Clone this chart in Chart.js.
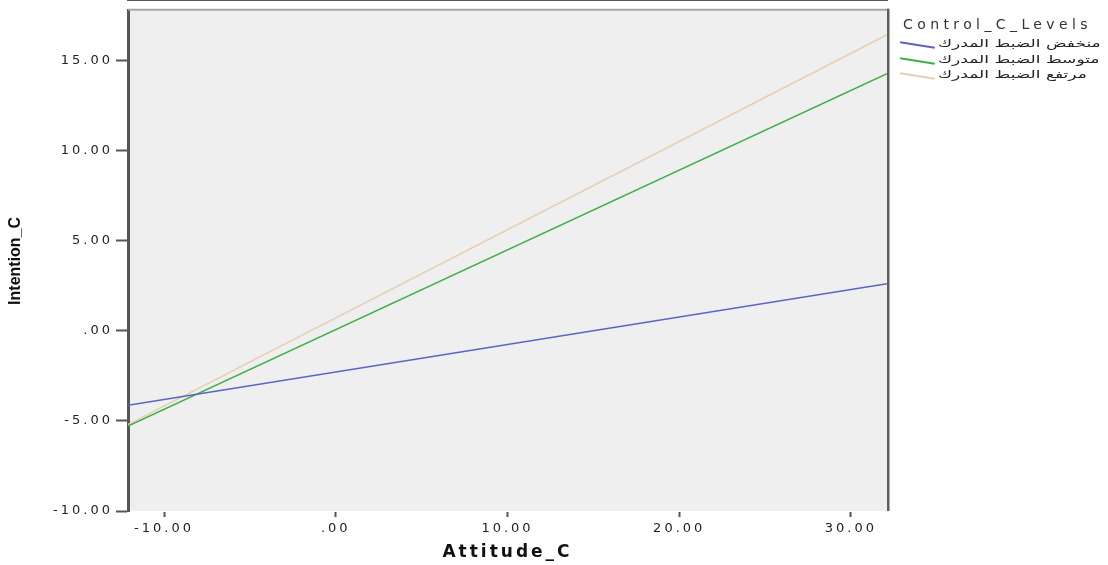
<!DOCTYPE html>
<html>
<head>
<meta charset="utf-8">
<script src="https://cdn.jsdelivr.net/npm/chart.js@4/dist/chart.umd.min.js"></script>
<style>
  html, body { margin: 0; padding: 0; background: #ffffff; }
  #wrap { position: relative; width: 1108px; height: 565px; overflow: hidden; }
  #c { position: absolute; left: 0; top: 0; }
  .lg-title { position: absolute; left: 903px; top: 16px; font: 14px "DejaVu Sans", sans-serif; letter-spacing: 4.4px; color: #333; line-height: 16px; white-space: nowrap; }
  .lg-line { position: absolute; left: 900px; width: 35px; height: 1.6px; transform: rotate(9deg); transform-origin: center; }
  .lg-text { position: absolute; left: 938px; font: 11px "DejaVu Sans", sans-serif; color: #222; line-height: 14px; white-space: nowrap; direction: rtl; unicode-bidi: plaintext; transform: scaleX(1.55); transform-origin: left center; }
</style>
</head>
<body>
<div id="wrap">
  <canvas id="c" width="1108" height="565"></canvas>
</div>
<script>
// ---- data ----
const xEnds = [-12.1, 32.1];
const seriesNames = ['منخفض الضبط المدرك', 'متوسط الضبط المدرك', 'مرتفع الضبط المدرك'];
const lowControl = [-4.13, 2.62];
const midControl = [-5.28, 14.29];
const highControl = [-5.2, 16.45];
const xTicks = [-10, 0, 10, 20, 30];
const xTickLabels = ['-10.00', '.00', '10.00', '20.00', '30.00'];
const yTicks = [-10, -5, 0, 5, 10, 15];
const yTickLabels = ['-10.00', '-5.00', '.00', '5.00', '10.00', '15.00'];
const legendTitle = 'Control_C_Levels';
const xTitle = 'Attitude_C';
const yTitle = 'Intention_C';
const seriesColors = ['#5b63c4', '#3fae49', '#e6cfb4'];

const seriesValues = [lowControl, midControl, highControl];

const framePlugin = {
  id: 'frame',
  beforeDraw(chart) {
    const { ctx, chartArea: a } = chart;
    ctx.letterSpacing = '0px';
    ctx.save();
    ctx.fillStyle = '#efefef';
    ctx.fillRect(a.left, a.top, a.right - a.left, a.bottom - a.top);
    ctx.restore();
  },
  afterDatasetsDraw(chart) {
    chart.ctx.letterSpacing = '3px';
  },
  afterDraw(chart) {
    const { ctx, chartArea: a } = chart;
    ctx.letterSpacing = '0px';
    ctx.save();
    ctx.strokeStyle = '#a4a4a4';
    ctx.lineWidth = 2;
    ctx.beginPath();
    ctx.moveTo(a.left, a.top - 1);
    ctx.lineTo(a.right + 2, a.top - 1);
    ctx.stroke();
    ctx.strokeStyle = '#5e5e5e';
    ctx.lineWidth = 2.5;
    ctx.beginPath();
    ctx.moveTo(a.right + 1.25, a.top - 2);
    ctx.lineTo(a.right + 1.25, a.bottom);
    ctx.stroke();
    ctx.restore();
  }
};

const datasets = seriesNames.map((name, i) => ({
  label: name,
  data: xEnds.map((x, j) => ({ x: x, y: seriesValues[i][j] })),
  borderColor: seriesColors[i],
  backgroundColor: seriesColors[i],
  borderWidth: 1.6,
  pointRadius: 0,
  fill: false,
  tension: 0
}));

new Chart(document.getElementById('c'), {
  type: 'line',
  data: { datasets },
  options: {
    responsive: false,
    animation: false,
    devicePixelRatio: 1,
    layout: { padding: { top: 9, right: 221, left: 0, bottom: 0 } },
    plugins: { legend: { display: false }, tooltip: { enabled: false } },
    scales: {
      x: {
        type: 'linear',
        min: xEnds[0],
        max: xEnds[1],
        afterBuildTicks: s => { s.ticks = xTicks.map(v => ({ value: v })); },
        afterFit: s => { s.height = 54; },
        ticks: {
          callback: (v) => xTickLabels[xTicks.indexOf(v)],
          font: { family: 'DejaVu Sans', size: 13 },
          color: '#222',
          padding: 4,
          maxRotation: 0,
          autoSkip: false,
          z: 1
        },
        grid: { drawOnChartArea: false, tickLength: 6, tickColor: '#555', tickWidth: 2, z: 1 },
        border: { display: true, color: '#555', width: 2 },
        title: {
          display: true, text: xTitle, color: '#111',
          font: { family: 'DejaVu Sans', weight: 'bold', size: 17 },
          padding: { top: 0, bottom: 2 }
        }
      },
      y: {
        type: 'linear',
        min: yTicks[0],
        max: 17.78,
        afterBuildTicks: s => { s.ticks = yTicks.map(v => ({ value: v })); },
        afterFit: s => { s.width = 128; },
        ticks: {
          callback: (v) => yTickLabels[yTicks.indexOf(v)],
          font: { family: 'DejaVu Sans', size: 13 },
          color: '#222',
          padding: 3,
          autoSkip: false,
          z: 1
        },
        grid: { drawOnChartArea: false, tickLength: 12, tickColor: '#555', tickWidth: 2 },
        border: { display: true, color: '#555', width: 3 },
        title: {
          display: true, text: yTitle, color: '#111',
          font: { family: 'Liberation Sans', weight: 'bold', size: 16 },
          padding: { top: 6, bottom: 0 }
        }
      }
    }
  },
  plugins: [framePlugin]
});

// ---- legend (HTML text) ----
const wrap = document.getElementById('wrap');
const t = document.createElement('div');
t.className = 'lg-title';
t.textContent = legendTitle;
wrap.appendChild(t);
const rowY = [45, 61, 76];
seriesNames.forEach((name, i) => {
  const ln = document.createElement('div');
  ln.className = 'lg-line';
  ln.style.top = (rowY[i] - 1) + 'px';
  ln.style.background = seriesColors[i];
  wrap.appendChild(ln);
  const tx = document.createElement('div');
  tx.className = 'lg-text';
  tx.style.top = (rowY[i] - 8) + 'px';
  tx.textContent = name;
  wrap.appendChild(tx);
});
</script>
</body>
</html>
